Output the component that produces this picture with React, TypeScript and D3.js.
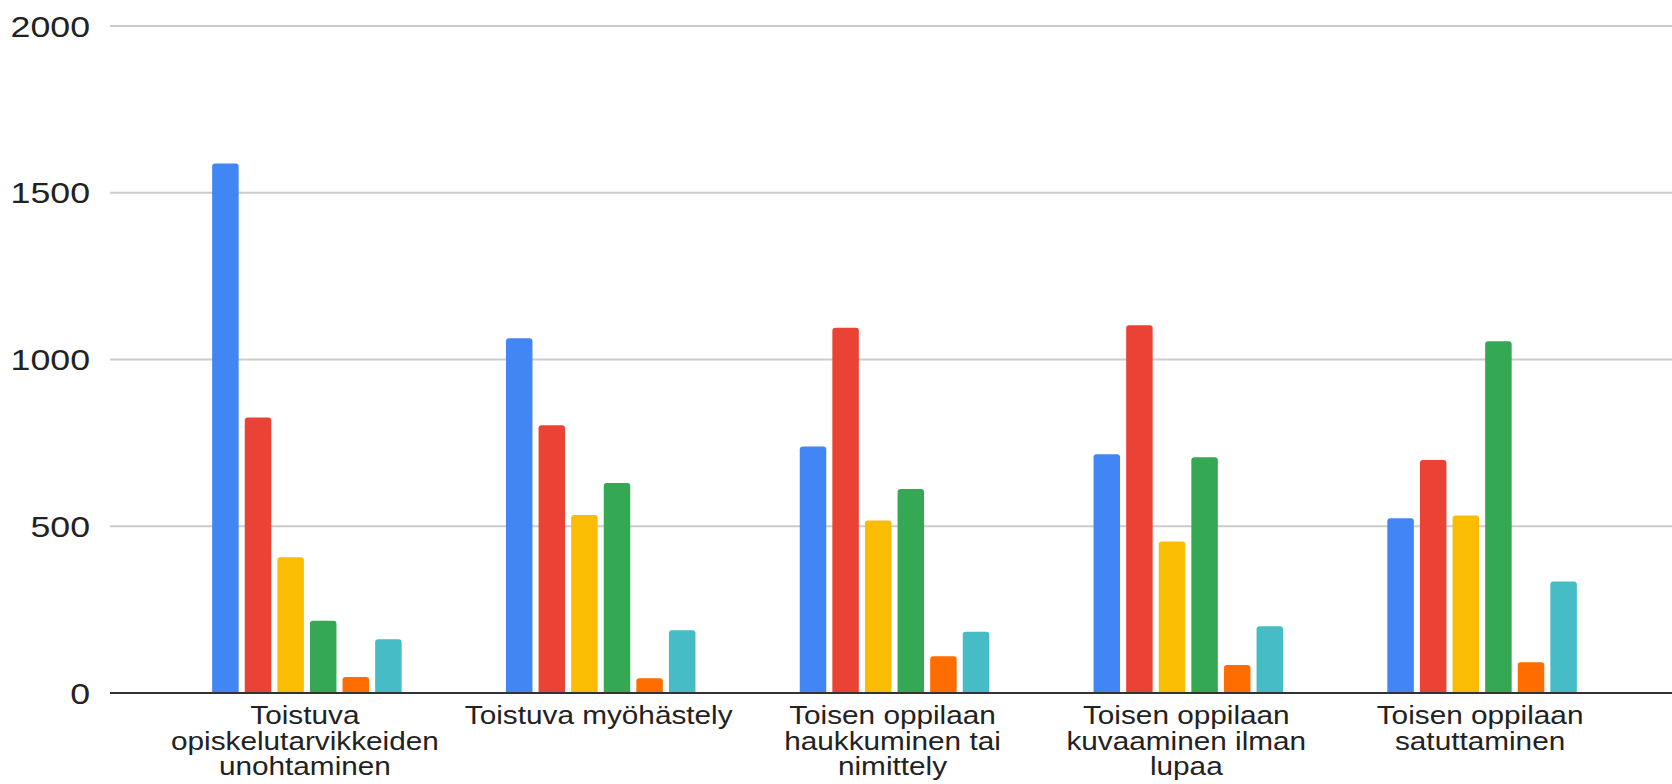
import React from "react";
import * as d3 from "d3";

const categories = [
  "Toistuva opiskelutarvikkeiden unohtaminen",
  "Toistuva myöhästely",
  "Toisen oppilaan haukkuminen tai nimittely",
  "Toisen oppilaan kuvaaminen ilman lupaa",
  "Toisen oppilaan satuttaminen",
];
const categoryLines = [
  ["Toistuva", "opiskelutarvikkeiden", "unohtaminen"],
  ["Toistuva myöhästely"],
  ["Toisen oppilaan", "haukkuminen tai", "nimittely"],
  ["Toisen oppilaan", "kuvaaminen ilman", "lupaa"],
  ["Toisen oppilaan", "satuttaminen"],
];

const series1 = [1588, 1064, 739, 716, 524];
const series2 = [826, 803, 1095, 1103, 699];
const series3 = [407, 534, 517, 454, 532];
const series4 = [217, 630, 612, 707, 1055];
const series5 = [48, 44, 110, 84, 92];
const series6 = [161, 188, 184, 200, 334];
const seriesList = [series1, series2, series3, series4, series5, series6];
const seriesColors = ["#4285F4", "#EA4335", "#FBBC04", "#34A853", "#FF6D01", "#46BDC6"];

const yTicks = [0, 500, 1000, 1500, 2000];

const W = 1672;
const H = 784;
const FONT = "'Liberation Sans', Arial, sans-serif";
const SX = 1.19;

function topRoundedRect(x: number, y: number, w: number, h: number, r: number) {
  const rr = Math.min(r, h, w / 2);
  return `M${x},${y + h} L${x},${y + rr} Q${x},${y} ${x + rr},${y} L${x + w - rr},${y} Q${x + w},${y} ${x + w},${y + rr} L${x + w},${y + h} Z`;
}

export default function App() {
  const y = d3.scaleLinear().domain([0, 2000]).range([693, 26]);
  const x0 = d3.scaleBand<string>().domain(categories).range([160, 1629]).padding(0);
  const groupWidth = 189.5;
  const x1 = d3
    .scaleBand<number>()
    .domain(d3.range(seriesList.length))
    .range([0, groupWidth])
    .paddingInner(0.187)
    .paddingOuter(0);

  return (
    <svg
      width={W}
      height={H}
      style={{ position: "absolute", left: 0, top: 0, background: "#fff" }}
      fontFamily={FONT}
    >
      <rect x={0} y={0} width={W} height={H} fill="#fff" />
      {yTicks.map((t) =>
        t === 0 ? null : (
          <line key={"g" + t} x1={110} x2={W} y1={y(t)} y2={y(t)} stroke="#cccccc" strokeWidth={2} />
        )
      )}
      {yTicks.map((t) => (
        <text
          key={"yl" + t}
          transform={`translate(90,${y(t) + 10.5}) scale(${SX},1)`}
          textAnchor="end"
          fontSize={30}
          fill="#222"
        >
          {t}
        </text>
      ))}
      {categories.map((c, ci) => {
        const cx = (x0(c) as number) + x0.bandwidth() / 2;
        const gx = cx - groupWidth / 2;
        return (
          <g key={c}>
            {seriesList.map((s, si) => {
              const v = s[ci];
              const bx = gx + (x1(si) as number);
              const by = y(v);
              const bh = y(0) - by;
              return (
                <path
                  key={si}
                  d={topRoundedRect(bx, by, x1.bandwidth(), bh, 3)}
                  fill={seriesColors[si]}
                />
              );
            })}
          </g>
        );
      })}
      <line x1={110} x2={W} y1={y(0)} y2={y(0)} stroke="#333333" strokeWidth={2.2} />
      {categories.map((c, ci) => {
        const cx = (x0(c) as number) + x0.bandwidth() / 2 - 2;
        return (
          <g key={"cl" + c}>
            {categoryLines[ci].map((ln, li) => (
              <text
                key={li}
                transform={`translate(${cx},${724 + li * 25.5}) scale(${SX},1)`}
                textAnchor="middle"
                fontSize={25}
                fill="#222"
              >
                {ln}
              </text>
            ))}
          </g>
        );
      })}
    </svg>
  );
}
